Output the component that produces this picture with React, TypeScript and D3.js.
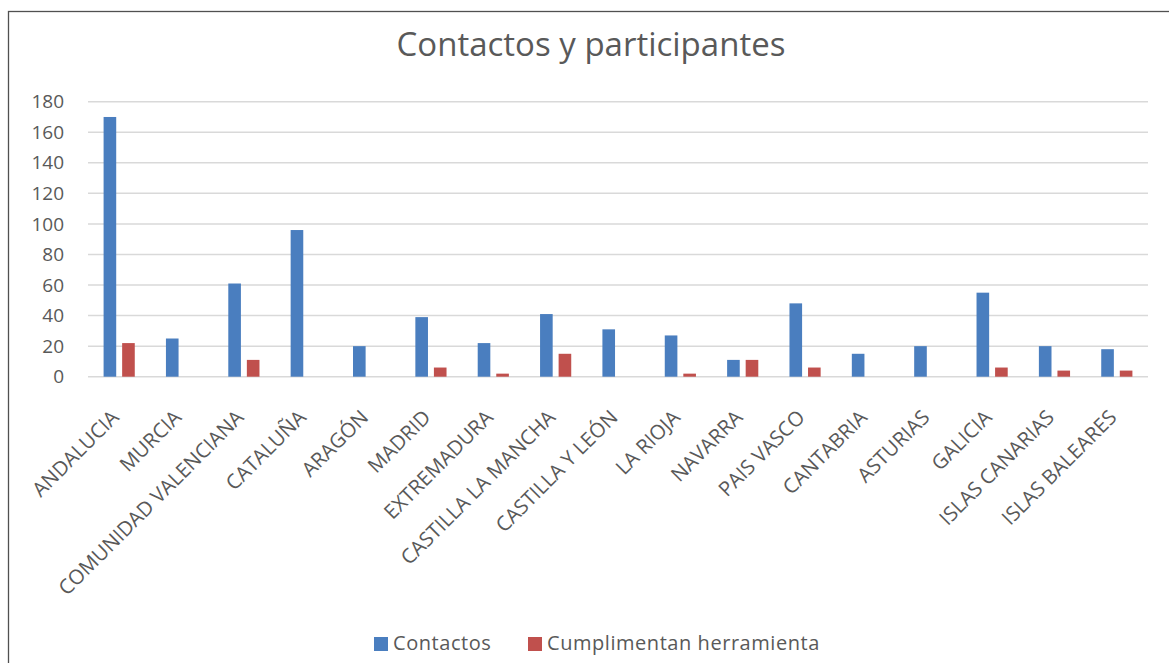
import React, { useEffect, useRef } from 'react';
import * as d3 from 'd3';

const categories = [
  'ANDALUCIA', 'MURCIA', 'COMUNIDAD VALENCIANA', 'CATALUÑA', 'ARAGÓN', 'MADRID',
  'EXTREMADURA', 'CASTILLA LA MANCHA', 'CASTILLA Y LEÓN', 'LA RIOJA', 'NAVARRA',
  'PAIS VASCO', 'CANTABRIA', 'ASTURIAS', 'GALICIA', 'ISLAS CANARIAS', 'ISLAS BALEARES',
];
const contactos = [170, 25, 61, 96, 20, 39, 22, 41, 31, 27, 11, 48, 15, 20, 55, 20, 18];
const cumplimentan = [22, 0, 11, 0, 0, 6, 2, 15, 0, 2, 11, 6, 0, 0, 6, 4, 4];
const seriesNames = ['Contactos', 'Cumplimentan herramienta'];
const seriesColors = ['#4a7ebf', '#c0504d'];
const yTicks = [0, 20, 40, 60, 80, 100, 120, 140, 160, 180];

const W = 1169;
const H = 663;
const FONT = '"Open Sans", "DejaVu Sans", sans-serif';
const GRAY = '#595959';

const App: React.FC = () => {
  const svgRef = useRef<SVGSVGElement>(null);

  useEffect(() => {
    if (!svgRef.current) return;
    const svg = d3.select(svgRef.current);
    svg.selectAll('*').remove();

    const left = 88, right = 1148, top = 101.7, bottom = 376.7;

    // chart frame
    svg.append('rect')
      .attr('x', 8.5).attr('y', 11.5)
      .attr('width', W).attr('height', H)
      .attr('fill', '#fff')
      .attr('stroke', '#505050')
      .attr('stroke-width', 1.3);

    svg.append('text')
      .attr('x', 591).attr('y', 56)
      .attr('text-anchor', 'middle')
      .attr('font-family', FONT)
      .attr('font-size', 33)
      .attr('fill', GRAY)
      .text('Contactos y participantes');

    const y = d3.scaleLinear().domain([0, 180]).range([bottom, top]);

    const x0 = d3.scaleBand<string>()
      .domain(categories)
      .range([left, right])
      .paddingInner(0.5)
      .paddingOuter(0.25);

    const x1 = d3.scaleBand<string>()
      .domain(seriesNames)
      .range([0, x0.bandwidth()])
      .paddingInner(0.32);

    // gridlines
    svg.append('g')
      .selectAll('line')
      .data(yTicks)
      .enter()
      .append('line')
      .attr('x1', left).attr('x2', right)
      .attr('y1', d => y(d)).attr('y2', d => y(d))
      .attr('stroke', '#d9d9d9')
      .attr('stroke-width', 1.5);

    // y labels
    svg.append('g')
      .selectAll('text')
      .data(yTicks)
      .enter()
      .append('text')
      .attr('x', 64)
      .attr('y', d => y(d))
      .attr('dy', '0.35em')
      .attr('text-anchor', 'end')
      .attr('font-family', FONT)
      .attr('font-size', 19)
      .attr('fill', GRAY)
      .text(d => d);

    const values = [contactos, cumplimentan];
    values.forEach((vals, si) => {
      svg.append('g')
        .selectAll('rect')
        .data(vals)
        .enter()
        .append('rect')
        .attr('x', (d, i) => (x0(categories[i]) as number) + (x1(seriesNames[si]) as number))
        .attr('y', d => y(d))
        .attr('width', x1.bandwidth())
        .attr('height', d => y(0) - y(d))
        .attr('fill', seriesColors[si]);
    });

    // x labels
    svg.append('g')
      .selectAll('text')
      .data(categories)
      .enter()
      .append('text')
      .attr('transform', d => {
        const cx = (x0(d) as number) + x0.bandwidth() / 2 + 1;
        return `translate(${cx},${bottom + 42}) rotate(-45)`;
      })
      .attr('text-anchor', 'end')
      .attr('font-family', FONT)
      .attr('font-size', 20.3)
      .attr('fill', GRAY)
      .text(d => d);

    // legend
    const legendX = [374, 528];
    seriesNames.forEach((name, i) => {
      svg.append('rect')
        .attr('x', legendX[i]).attr('y', 637)
        .attr('width', 14).attr('height', 14)
        .attr('fill', seriesColors[i]);
      svg.append('text')
        .attr('x', legendX[i] + 19).attr('y', 650)
        .attr('font-family', FONT)
        .attr('font-size', 20)
        .attr('letter-spacing', 0.55)
        .attr('fill', GRAY)
        .text(name);
    });
  }, []);

  return (
    <svg
      ref={svgRef}
      width={W}
      height={H}
      style={{ position: 'absolute', left: 0, top: 0, background: '#fff' }}
    />
  );
};

export default App;
